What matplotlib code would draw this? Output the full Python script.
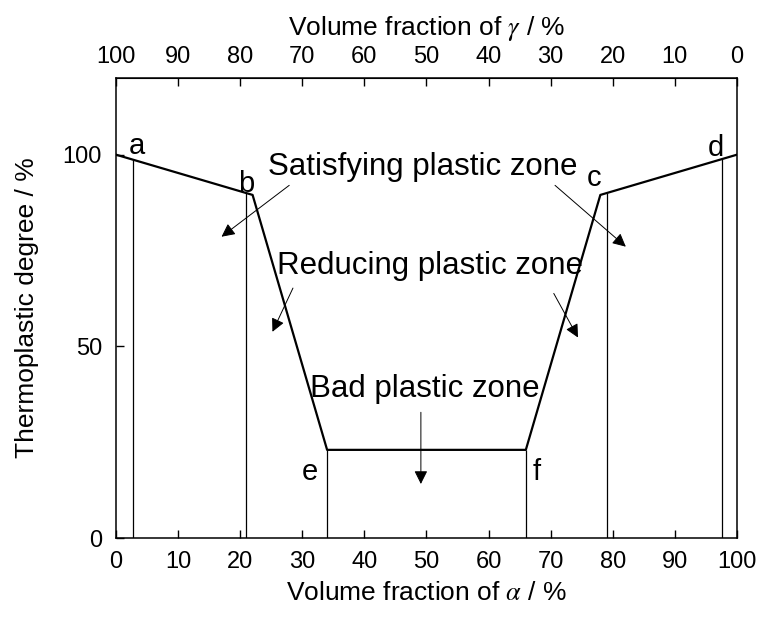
import numpy as np
import matplotlib
matplotlib.use("Agg")
import matplotlib.pyplot as plt

plt.rcParams['font.family'] = ['Liberation Sans', 'DejaVu Sans']
plt.rcParams['mathtext.fontset'] = 'stix'

# boundary curve (alpha fraction, thermoplastic degree)
curve_x = [0, 22, 34, 66, 78, 100]
curve_y = [100, 89.5, 23, 23, 89.5, 100]

# vertical guide lines
guide_x = [2.7, 21, 34, 66, 79, 97.6]
guide_top = [98.8, 90.0, 23, 23, 90.0, 98.9]

# point letters
point_names = ['a', 'b', 'c', 'd', 'e', 'f']
point_x = [3.4, 21.0, 77.0, 96.6, 31.3, 67.7]
point_y = [100.3, 90.3, 91.9, 99.7, 15.2, 15.2]

# zone labels and arrows (tail -> head)
zone_names = ['Satisfying plastic zone', 'Reducing plastic zone', 'Bad plastic zone']
zone_x = [49.4, 50.5, 49.8]
zone_y = [94.8, 68.8, 36.8]
arrow_tail = [(27.9, 92.0), (70.7, 92.0), (28.5, 65.2), (70.5, 63.8), (49.1, 32.8)]
arrow_head = [(17.0, 78.6), (82.1, 76.0), (25.2, 53.8), (74.4, 52.3), (49.1, 14.1)]

xticks = np.arange(0, 101, 10)
yticks = [0, 50, 100]

fig = plt.figure(figsize=(7.68, 6.22), dpi=100)
ax = fig.add_axes([0.151, 0.135, 0.8086, 0.7396])

ax.plot(curve_x, curve_y, color='k', lw=1.6)
ax.vlines(guide_x, 0, guide_top, color='k', lw=0.9)

for n, x, y in zip(point_names, point_x, point_y):
    ax.text(x, y, n, fontsize=21, ha='center', va='baseline')

for n, x, y in zip(zone_names, zone_x, zone_y):
    ax.text(x, y, n, fontsize=22.5, ha='center', va='baseline')

for t, h in zip(arrow_tail, arrow_head):
    ax.annotate('', xy=h, xytext=t,
                arrowprops=dict(arrowstyle='-|>', color='k', lw=0.7,
                                mutation_scale=20, shrinkA=0, shrinkB=0))

ax.set_xlim(0, 100)
ax.set_ylim(0, 120)
ax.set_xticks(xticks)
ax.set_yticks(yticks)
ax.tick_params(direction='in', length=6, width=1, labelsize=17)
ax.tick_params(axis='x', pad=9)
ax.tick_params(axis='y', pad=10)
for s in ax.spines.values():
    s.set_linewidth(1.1)

ax.set_xlabel(r'Volume fraction of $\alpha$ / %', fontsize=19, labelpad=6)
ax.set_ylabel('Thermoplastic degree / %', fontsize=19, labelpad=17)

top = ax.secondary_xaxis('top', functions=(lambda x: 100 - x, lambda x: 100 - x))
top.set_xticks(xticks)
top.tick_params(direction='in', length=6, width=1, labelsize=17, pad=7)
top.set_xlabel(r'Volume fraction of $\gamma$ / %', fontsize=19, labelpad=8)

fig.savefig('out.png', dpi=100)
